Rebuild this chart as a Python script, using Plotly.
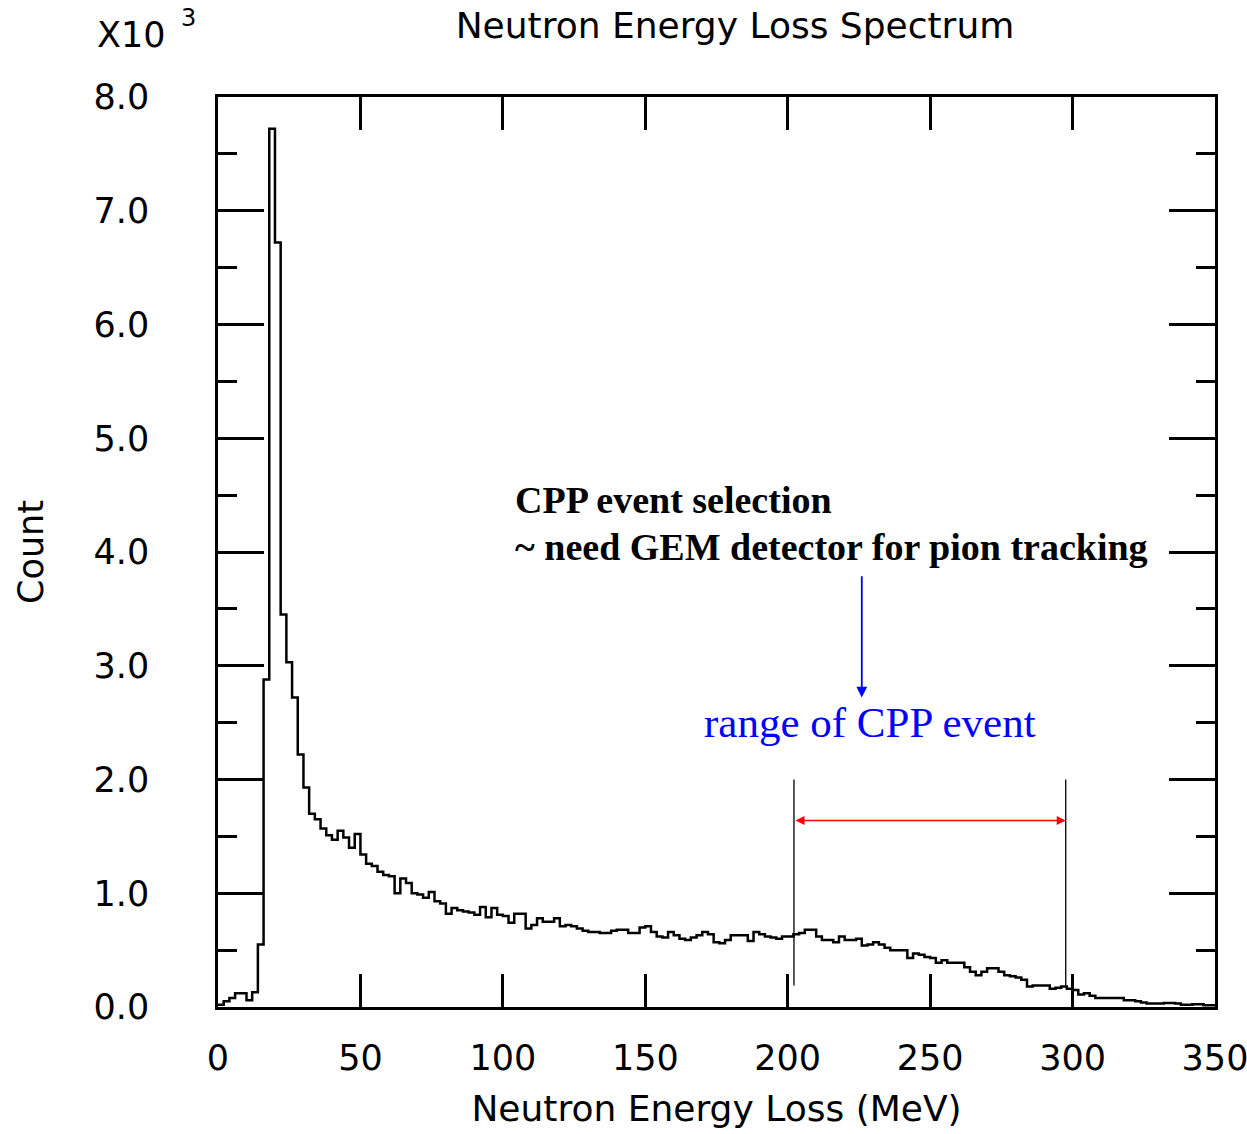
import numpy as np
import plotly.graph_objects as go

# Histogram: 2 MeV bins from 0 to 350 MeV, counts in units of 10^3
bin_width = 2.0
counts_k = [
    0.02, 0.05, 0.08, 0.12, 0.12, 0.06, 0.13, 0.55, 2.88, 7.72,
    6.72, 3.45, 3.03, 2.72, 2.22, 1.93, 1.70, 1.65, 1.57, 1.51,
    1.47, 1.55, 1.49, 1.40, 1.52, 1.34, 1.26, 1.24, 1.19, 1.16,
    1.15, 1.00, 1.13, 1.09, 1.00, 0.99, 0.96, 1.01, 0.93, 0.91,
    0.82, 0.87, 0.85, 0.84, 0.83, 0.81, 0.88, 0.79, 0.87, 0.81,
    0.80, 0.74, 0.82, 0.82, 0.69, 0.72, 0.78, 0.75, 0.75, 0.78,
    0.71, 0.72, 0.71, 0.69, 0.67, 0.66, 0.66, 0.65, 0.65, 0.67,
    0.68, 0.68, 0.65, 0.65, 0.70, 0.71, 0.66, 0.62, 0.61, 0.66,
    0.63, 0.60, 0.59, 0.61, 0.63, 0.66, 0.64, 0.57, 0.56, 0.59,
    0.63, 0.63, 0.63, 0.58, 0.66, 0.64, 0.62, 0.61, 0.60, 0.62,
    0.62, 0.64, 0.65, 0.68, 0.68, 0.62, 0.59, 0.59, 0.57, 0.62,
    0.59, 0.59, 0.60, 0.54, 0.55, 0.57, 0.55, 0.52, 0.50, 0.50,
    0.50, 0.43, 0.47, 0.46, 0.44, 0.43, 0.39, 0.41, 0.39, 0.39,
    0.39, 0.35, 0.31, 0.28, 0.31, 0.34, 0.34, 0.31, 0.28, 0.27,
    0.26, 0.24, 0.18, 0.19, 0.19, 0.19, 0.16, 0.17, 0.18, 0.16,
    0.15, 0.11, 0.12, 0.10, 0.08, 0.08, 0.08, 0.08, 0.08, 0.06,
    0.06, 0.05, 0.04, 0.03, 0.03, 0.03, 0.035, 0.035, 0.03, 0.02,
    0.02, 0.025, 0.025, 0.015, 0.015,
]

x_ticks = [0, 50, 100, 150, 200, 250, 300, 350]
y_ticks = [0, 1, 2, 3, 4, 5, 6, 7, 8]
y_tick_labels = ["0.0", "1.0", "2.0", "3.0", "4.0", "5.0", "6.0", "7.0", "8.0"]

cpp_range = [202.2, 297.6]       # MeV, vertical marker lines
cpp_line_y = [0.19, 2.0]         # extent of vertical markers (x10^3)
cpp_arrow_y = 1.64
sel_arrow_x = 226.0
sel_arrow_y = [3.8, 2.72]

edges = np.arange(len(counts_k) + 1) * bin_width
y_step = list(counts_k) + [counts_k[-1]]

FONT = "DejaVu Sans"
SERIF = "Liberation Serif"

L, R, T, B = 218, 32, 97, 127
W, H = 1247, 1134
pw, ph = W - L - R, H - T - B

fig = go.Figure()
fig.add_trace(go.Scatter(
    x=edges, y=y_step, mode="lines", line=dict(shape="hv", color="black", width=2.5),
    showlegend=False, hoverinfo="skip",
))

for xv in cpp_range:
    fig.add_trace(go.Scatter(
        x=[xv, xv], y=cpp_line_y, mode="lines",
        line=dict(color="black", width=1.3), showlegend=False, hoverinfo="skip",
    ))

annotations = [
    dict(x=cpp_range[1], y=cpp_arrow_y, ax=cpp_range[0], ay=cpp_arrow_y,
         xref="x", yref="y", axref="x", ayref="y", text="", showarrow=True,
         arrowhead=2, startarrowhead=2, arrowside="end+start", arrowsize=1.2,
         startarrowsize=1.2, arrowwidth=1.5, arrowcolor="red"),
    dict(x=sel_arrow_x, y=sel_arrow_y[1], ax=sel_arrow_x, ay=sel_arrow_y[0],
         xref="x", yref="y", axref="x", ayref="y", text="", showarrow=True,
         arrowhead=2, arrowsize=1.2, arrowwidth=1.8, arrowcolor="blue"),
    dict(x=103.5, y=4.46, xref="x", yref="y", text="<b>CPP event selection</b>",
         showarrow=False, xanchor="left", yanchor="middle",
         font=dict(family=SERIF, size=38, color="black")),
    dict(x=103.5, y=4.04, xref="x", yref="y",
         text="<b>~ need GEM detector for pion tracking</b>",
         showarrow=False, xanchor="left", yanchor="middle",
         font=dict(family=SERIF, size=38, color="black")),
    dict(x=228.8, y=2.505, xref="x", yref="y", text="range of CPP event",
         showarrow=False, xanchor="center", yanchor="middle",
         font=dict(family=SERIF, size=43, color="blue")),
    dict(x=(95 - L) / pw, y=(H - 35 - B) / ph, xref="paper", yref="paper", text="X10",
         showarrow=False, xanchor="left", yanchor="middle",
         font=dict(family=FONT, size=35, color="black")),
    dict(x=(179 - L) / pw, y=(H - 18 - B) / ph, xref="paper", yref="paper", text="3",
         showarrow=False, xanchor="left", yanchor="middle",
         font=dict(family=FONT, size=24, color="black")),
]

fig.update_layout(
    width=W, height=H,
    margin=dict(l=L, r=R, t=T, b=B, pad=0),
    paper_bgcolor="white", plot_bgcolor="white",
    font=dict(family=FONT, size=35, color="black"),
    title=dict(text="Neutron Energy Loss Spectrum", x=735 / W, xanchor="center",
               y=1 - 25 / H, yanchor="middle",
               font=dict(family=FONT, size=36, color="black")),
    annotations=annotations,
)

fig.update_xaxes(
    range=[0, 350], tickvals=x_ticks, ticktext=[str(v) for v in x_ticks],
    ticks="inside", ticklen=33, tickwidth=2.5, tickcolor="black",
    showline=True, linecolor="black", linewidth=2.5, mirror="allticks",
    showgrid=False, zeroline=False, automargin=False, ticklabeloverflow="allow",
    tickfont=dict(family=FONT, size=35), ticklabelstandoff=18,
    title=dict(text="Neutron Energy Loss (MeV)", standoff=20,
               font=dict(family=FONT, size=36)),
)
fig.update_yaxes(
    range=[0, 8], tickvals=y_ticks, ticktext=y_tick_labels,
    ticks="inside", ticklen=46, tickwidth=2.5, tickcolor="black",
    minor=dict(dtick=0.5, ticks="inside", ticklen=19, tickwidth=2.5, tickcolor="black"),
    showline=True, linecolor="black", linewidth=2.5, mirror="allticks",
    showgrid=False, zeroline=False, automargin=False, ticklabeloverflow="allow",
    tickfont=dict(family=FONT, size=35), ticklabelstandoff=59,
    title=dict(text="Count", standoff=40, font=dict(family=FONT, size=35)),
)

fig.write_html("out.html")
